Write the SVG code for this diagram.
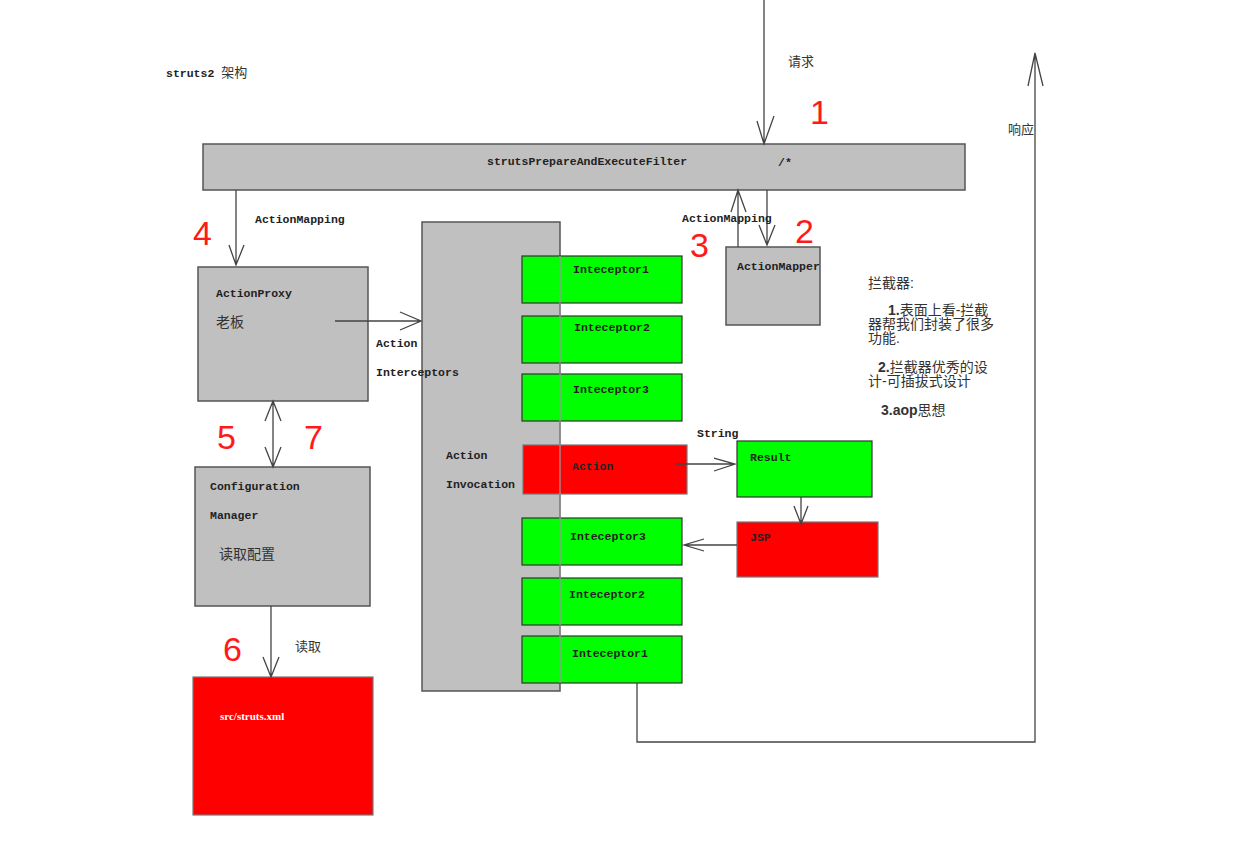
<svg xmlns="http://www.w3.org/2000/svg" width="1233" height="861" viewBox="0 0 1233 861">
<style>
.box{fill:#c0c0c0;stroke:#555;stroke-width:1.5}
.grn{fill:#00ff00;stroke:#333;stroke-width:1.2}
.red{fill:#ff0000;stroke:#777;stroke-width:1.2}
.ln{stroke:#444;stroke-width:1.3;fill:none}
.m{font-family:"Liberation Mono","DejaVu Sans Mono",monospace;font-size:11.5px;font-weight:bold;fill:#222}
.zh{font-family:"Liberation Sans","Noto Sans CJK SC",sans-serif;font-size:13px;fill:#333}
.num{font-family:"Liberation Sans",Arial,sans-serif;font-size:34px;fill:#ff1a1a}
.nt{font-family:"Liberation Sans","Noto Sans CJK SC",sans-serif;font-size:14px;fill:#333}
</style>
<rect width="1233" height="861" fill="#fff"/>
<text x="166" y="77" class="m">struts2 <tspan class="zh" style="font-weight:normal">架构</tspan></text>

<g id="filter">
<rect x="203" y="144" width="762" height="46" class="box"/>
<text x="487" y="165" class="m">strutsPrepareAndExecuteFilter</text>
<text x="778" y="166" class="m">/*</text>
</g>

<g id="actionproxy">
<rect x="198" y="267" width="170" height="134" class="box"/>
<text x="216" y="297" class="m">ActionProxy</text>
<text x="216" y="327" class="zh" style="font-size:14px">老板</text>
</g>

<g id="config">
<rect x="195" y="467" width="175" height="139" class="box"/>
<text x="210" y="490" class="m">Configuration</text>
<text x="210" y="519" class="m">Manager</text>
<text x="219" y="559" class="zh" style="font-size:14px">读取配置</text>
</g>

<g id="strutsxml">
<rect x="193" y="677" width="180" height="138" class="red"/>
<text x="220" y="720" style="font-family:'Liberation Serif',serif;font-size:11px;font-weight:bold;fill:#fff">src/struts.xml</text>
</g>

<g id="invocation">
<rect x="422" y="222" width="138" height="469" class="box"/>
<text x="446" y="459" class="m">Action</text>
<text x="446" y="488" class="m">Invocation</text>
</g>

<g id="int1a"><rect x="522" y="256" width="160" height="47" class="grn"/><text x="573" y="273" class="m">Inteceptor1</text></g>
<g id="int2a"><rect x="522" y="316" width="160" height="47" class="grn"/><text x="574" y="331" class="m">Inteceptor2</text></g>
<g id="int3a"><rect x="522" y="374" width="160" height="47" class="grn"/><text x="573" y="393" class="m">Inteceptor3</text></g>
<g id="action"><rect x="523" y="445" width="164" height="49" class="red"/><text x="572" y="470" class="m">Action</text></g>
<g id="int3b"><rect x="522" y="518" width="160" height="47" class="grn"/><text x="570" y="540" class="m">Inteceptor3</text></g>
<g id="int2b"><rect x="522" y="578" width="160" height="47" class="grn"/><text x="569" y="598" class="m">Inteceptor2</text></g>
<g id="int1b"><rect x="522" y="636" width="160" height="47" class="grn"/><text x="572" y="657" class="m">Inteceptor1</text></g>
<line x1="560" y1="256" x2="560" y2="683" stroke="#999" stroke-width="1.3"/>

<g id="result"><rect x="737" y="441" width="135" height="56" class="grn"/><text x="750" y="461" class="m">Result</text></g>
<g id="jsp"><rect x="737" y="522" width="141" height="55" class="red"/><text x="750" y="541" class="m">JSP</text></g>
<g id="actionmapper"><rect x="726" y="247" width="94" height="78" class="box"/><text x="737" y="270" class="m">ActionMapper</text></g>

<g id="connectors">
<path class="ln" d="M764 0V144M757 121L764 144L774 116"/>
<path class="ln" d="M637 683V742H1035V53M1028 86L1035 53L1043 86"/>
<path class="ln" d="M236 190V265M229 245L236 265L244 245"/>
<path class="ln" d="M335 321H421M400 312L421 321L400 330"/>
<path class="ln" d="M738 247V190M731 212L738 190L746 212"/>
<path class="ln" d="M767 190V245M759 225L767 245L775 225"/>
<path class="ln" d="M273 401V467M265 421L273 401L281 421M265 447L273 467L281 447"/>
<path class="ln" d="M271 606V677M263 657L271 677L279 657"/>
<path class="ln" d="M676 464H735M714 458L735 464L714 471"/>
<path class="ln" d="M801 497V524M794 506L801 524L808 506"/>
<path class="ln" d="M737 545H684M704 539L684 545L704 551"/>
</g>

<text x="788" y="66" class="zh">请求</text>
<text x="1008" y="134" class="zh">响应</text>
<text x="255" y="223" class="m">ActionMapping</text>
<text x="682" y="222" class="m">ActionMapping</text>
<text x="376" y="347" class="m">Action</text>
<text x="376" y="376" class="m">Interceptors</text>
<text x="697" y="437" class="m">String</text>
<text x="295" y="651" class="zh">读取</text>

<text x="810" y="124" class="num">1</text>
<text x="795" y="243" class="num">2</text>
<text x="690" y="257" class="num">3</text>
<text x="193" y="245" class="num">4</text>
<text x="217" y="449" class="num">5</text>
<text x="304" y="449" class="num">7</text>
<text x="223" y="661" class="num">6</text>

<g id="notes" class="nt">
<text x="868" y="288">拦截器:</text>
<text x="888" y="315"><tspan style="font-weight:bold">1.</tspan>表面上看-拦截</text>
<text x="868" y="329">器帮我们封装了很多</text>
<text x="868" y="343">功能.</text>
<text x="878" y="372"><tspan style="font-weight:bold">2.</tspan>拦截器优秀的设</text>
<text x="868" y="386">计-可插拔式设计</text>
<text x="881" y="415"><tspan style="font-weight:bold">3.aop</tspan>思想</text>
</g>
</svg>
